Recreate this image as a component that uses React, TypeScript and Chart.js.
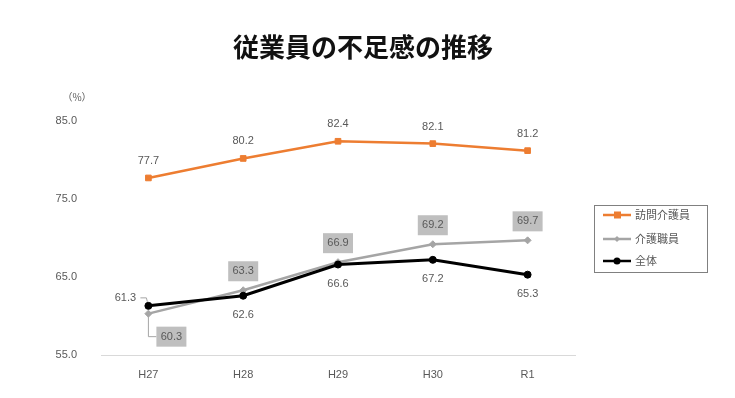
import React, { useEffect, useRef } from "react";
import { Chart, registerables } from "chart.js";

Chart.register(...registerables);

const categories = ["H27", "H28", "H29", "H30", "R1"];
const homeCareValues = [77.7, 80.2, 82.4, 82.1, 81.2];
const careStaffValues = [60.3, 63.3, 66.9, 69.2, 69.7];
const allValues = [61.3, 62.6, 66.6, 67.2, 65.3];
const seriesNames = ["訪問介護員", "介護職員", "全体"];
const yTicks = [55, 65, 75, 85];
const titleText = "従業員の不足感の推移";

const ORANGE = "#ED7D31";
const GRAY = "#A5A5A5";
const BLACK = "#000000";
const LABEL = "#595959";
const LATIN = "'Liberation Sans', Arial, sans-serif";
const CJK = "'Noto Sans CJK JP', sans-serif";

const overlayPlugin = {
  id: "overlay",
  afterDatasetsDraw(chart: any) {
    const ctx = chart.ctx as CanvasRenderingContext2D;
    ctx.save();
    ctx.textAlign = "center";
    ctx.textBaseline = "middle";

    // title
    ctx.fillStyle = "#111111";
    ctx.font = `bold 26px ${CJK}`;
    ctx.fillText(titleText, 363, 47);

    // (%) unit
    ctx.fillStyle = LABEL;
    ctx.font = `10px ${CJK}`;
    ctx.fillText("（%）", 77, 97);
    ctx.font = `11px ${LATIN}`;

    const m0 = chart.getDatasetMeta(0);
    const m1 = chart.getDatasetMeta(1);
    const m2 = chart.getDatasetMeta(2);

    // orange labels above
    m0.data.forEach((p: any, i: number) => {
      ctx.fillStyle = LABEL;
      ctx.fillText(homeCareValues[i].toFixed(1), p.x, p.y - 17);
    });

    // gray boxed labels
    m1.data.forEach((p: any, i: number) => {
      const txt = careStaffValues[i].toFixed(1);
      let cx = p.x;
      let cy = p.y - 19;
      if (i === 0) {
        cx = p.x + 23;
        cy = p.y + 23;
        ctx.strokeStyle = GRAY;
        ctx.lineWidth = 1;
        ctx.beginPath();
        ctx.moveTo(p.x, p.y + 3);
        ctx.lineTo(p.x, cy);
        ctx.lineTo(cx - 15, cy);
        ctx.stroke();
      }
      ctx.fillStyle = "#BFBFBF";
      ctx.fillRect(cx - 15, cy - 10, 30, 20);
      ctx.fillStyle = LABEL;
      ctx.fillText(txt, cx, cy);
    });

    // black labels below
    m2.data.forEach((p: any, i: number) => {
      const txt = allValues[i].toFixed(1);
      if (i === 0) {
        ctx.strokeStyle = GRAY;
        ctx.lineWidth = 1;
        ctx.beginPath();
        ctx.moveTo(p.x - 8, p.y - 8);
        ctx.lineTo(p.x - 2, p.y - 8);
        ctx.lineTo(p.x - 1, p.y - 4);
        ctx.stroke();
        ctx.fillStyle = LABEL;
        ctx.fillText(txt, p.x - 23, p.y - 8);
      } else {
        ctx.fillStyle = LABEL;
        ctx.fillText(txt, p.x, p.y + 19);
      }
    });

    // legend
    const lx = 594, ly = 205, lw = 113, lh = 67;
    ctx.strokeStyle = "#808080";
    ctx.lineWidth = 1;
    ctx.strokeRect(lx + 0.5, ly + 0.5, lw, lh);
    const colors = [ORANGE, GRAY, BLACK];
    const rows = [215, 239, 261];
    rows.forEach((y, i) => {
      ctx.strokeStyle = colors[i];
      ctx.lineWidth = 2.5;
      ctx.beginPath();
      ctx.moveTo(603, y);
      ctx.lineTo(631, y);
      ctx.stroke();
      ctx.fillStyle = colors[i];
      if (i === 0) {
        ctx.fillRect(614, y - 3.5, 7, 7);
      } else if (i === 1) {
        ctx.beginPath();
        ctx.moveTo(617, y - 3);
        ctx.lineTo(620, y);
        ctx.lineTo(617, y + 3);
        ctx.lineTo(614, y);
        ctx.closePath();
        ctx.fill();
      } else {
        ctx.beginPath();
        ctx.arc(617, y, 3.5, 0, Math.PI * 2);
        ctx.fill();
      }
      ctx.fillStyle = LABEL;
      ctx.textAlign = "left";
      ctx.font = `11px ${CJK}`;
      ctx.fillText(seriesNames[i], 635, y);
    });
    ctx.restore();
  },
};

export default function App() {
  const ref = useRef<HTMLCanvasElement>(null);
  useEffect(() => {
    if (!ref.current) return;
    const chart = new Chart(ref.current, {
      type: "line",
      data: {
        labels: categories,
        datasets: [
          {
            label: seriesNames[0],
            data: homeCareValues,
            borderColor: ORANGE,
            backgroundColor: ORANGE,
            borderWidth: 2.5,
            pointStyle: "rect",
            pointRadius: 4,
            pointBorderWidth: 1,
            order: 2,
          },
          {
            label: seriesNames[1],
            data: careStaffValues,
            borderColor: GRAY,
            backgroundColor: GRAY,
            borderWidth: 2.5,
            pointStyle: "rectRot",
            pointRadius: 3.5,
            pointBorderWidth: 1,
            order: 1,
          },
          {
            label: seriesNames[2],
            data: allValues,
            borderColor: BLACK,
            backgroundColor: BLACK,
            borderWidth: 3,
            pointStyle: "circle",
            pointRadius: 3.5,
            pointBorderWidth: 1,
            order: 0,
          },
        ],
      },
      options: {
        animation: false,
        responsive: false,
        layout: { padding: { left: 0, right: 160, top: 121, bottom: 0 } },
        plugins: {
          legend: { display: false },
          tooltip: { enabled: false },
          title: { display: false },
        },
        scales: {
          x: {
            offset: true,
            grid: { display: false },
            border: { display: true, color: "#D9D9D9", width: 1 },
            ticks: { color: LABEL, font: { family: LATIN, size: 11 }, padding: 5 },
            afterFit: (s: any) => {
              s.height = 43;
            },
          },
          y: {
            min: 55,
            max: 85,
            afterBuildTicks: (s: any) => {
              s.ticks = yTicks.map((v) => ({ value: v }));
            },
            grid: { display: false },
            border: { display: false },
            ticks: {
              color: LABEL,
              font: { family: LATIN, size: 11 },
              padding: 16,
              callback: (v: any) => Number(v).toFixed(1),
            },
            afterFit: (s: any) => {
              s.width = 101;
            },
          },
        },
      },
      plugins: [overlayPlugin],
    });
    return () => chart.destroy();
  }, []);
  return (
    <div style={{ position: "absolute", left: 0, top: 0, width: 735, height: 398, background: "#fff" }}>
      <canvas ref={ref} width={735} height={398} style={{ width: 735, height: 398 }} />
    </div>
  );
}
